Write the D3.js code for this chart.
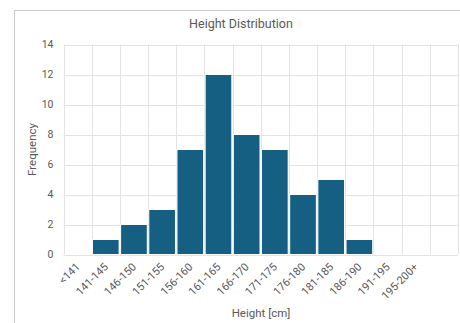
<!DOCTYPE html>
<html>
<head>
<meta charset="utf-8">
<script src="https://cdn.jsdelivr.net/npm/d3@7"></script>
<style>
html,body{margin:0;padding:0;background:#fff;}
svg{display:block;}
text{font-family:Roboto,"Liberation Sans",Arial,sans-serif;fill:#595959;}
</style>
</head>
<body>
<svg id="chart" width="460" height="323"></svg>
<script>
const categories = ["<141","141-145","146-150","151-155","156-160","161-165","166-170","171-175","176-180","181-185","186-190","191-195","195-200+",""];
const frequencies = [0,1,2,3,7,12,8,7,4,5,1,0,0,0];
const yTicks = [0,2,4,6,8,10,12,14];
const title = "Height Distribution";
const xTitle = "Height [cm]";
const yTitle = "Frequency";

const svg = d3.select("#chart");
const W = 460, H = 323;
const m = {left:63.5, right:2, top:44.5, bottom:68.5};
const x = d3.scaleBand().domain(categories.map((c,i)=>i)).range([m.left, W - m.right]).paddingInner(0).paddingOuter(0);
const y = d3.scaleLinear().domain([0,14]).range([H - m.bottom, m.top]);

// chart border
svg.append("rect").attr("x",14.5).attr("y",10.5).attr("width",470).attr("height",340)
  .attr("fill","#fff").attr("stroke","#c9c9c9").attr("stroke-width",1);

// grid
const grid = svg.append("g");
grid.selectAll("line.h").data(yTicks).join("line")
  .attr("x1",m.left).attr("x2",W-m.right)
  .attr("y1",d=>Math.round(y(d))+0.5).attr("y2",d=>Math.round(y(d))+0.5)
  .attr("stroke","#e3e3e3").attr("stroke-width",1);
const bounds = categories.map((c,i)=>x(i)).concat([x(categories.length-1)+x.bandwidth()]);
grid.selectAll("line.v").data(bounds).join("line")
  .attr("x1",d=>Math.round(d)+0.5).attr("x2",d=>Math.round(d)+0.5)
  .attr("y1",m.top).attr("y2",y(0))
  .attr("stroke","#e3e3e3").attr("stroke-width",1);

// bars
svg.append("g").selectAll("rect").data(frequencies).join("rect")
  .attr("x",(d,i)=>x(i)+0.75)
  .attr("width",x.bandwidth()-1.5)
  .attr("y",d=>y(d))
  .attr("height",d=>y(0)-y(d))
  .attr("fill","#156082")
  .attr("stroke","#ffffff").attr("stroke-width",1)
  .attr("visibility",d=>d>0?"visible":"hidden");

// y axis
const yAxis = d3.axisLeft(y).tickValues(yTicks).tickSize(0).tickPadding(10);
const gy = svg.append("g").attr("transform",`translate(${m.left},0)`).call(yAxis);
gy.select(".domain").remove();
gy.selectAll("text").style("font-size","10.5px").attr("fill","#595959");

// x axis labels
const xAxis = d3.axisBottom(x).tickFormat(i=>categories[i]).tickSize(0).tickPadding(0);
const gx = svg.append("g").attr("transform",`translate(0,${y(0)})`).call(xAxis);
gx.select(".domain").remove();
gx.selectAll("text")
  .style("font-size","11px").attr("fill","#595959")
  .attr("text-anchor","end")
  .attr("dy",null).attr("y",null)
  .attr("transform","translate(3,13) rotate(-45)");

// titles
svg.append("text").attr("x",241).attr("y",28).attr("text-anchor","middle")
  .style("font-size","12.5px").text(title);
svg.append("text").attr("x",261).attr("y",317).attr("text-anchor","middle")
  .style("font-size","11.5px").text(xTitle);
svg.append("text").attr("transform",`translate(36,${(m.top+y(0))/2}) rotate(-90)`)
  .attr("text-anchor","middle").style("font-size","11.5px").text(yTitle);
</script>
</body>
</html>
